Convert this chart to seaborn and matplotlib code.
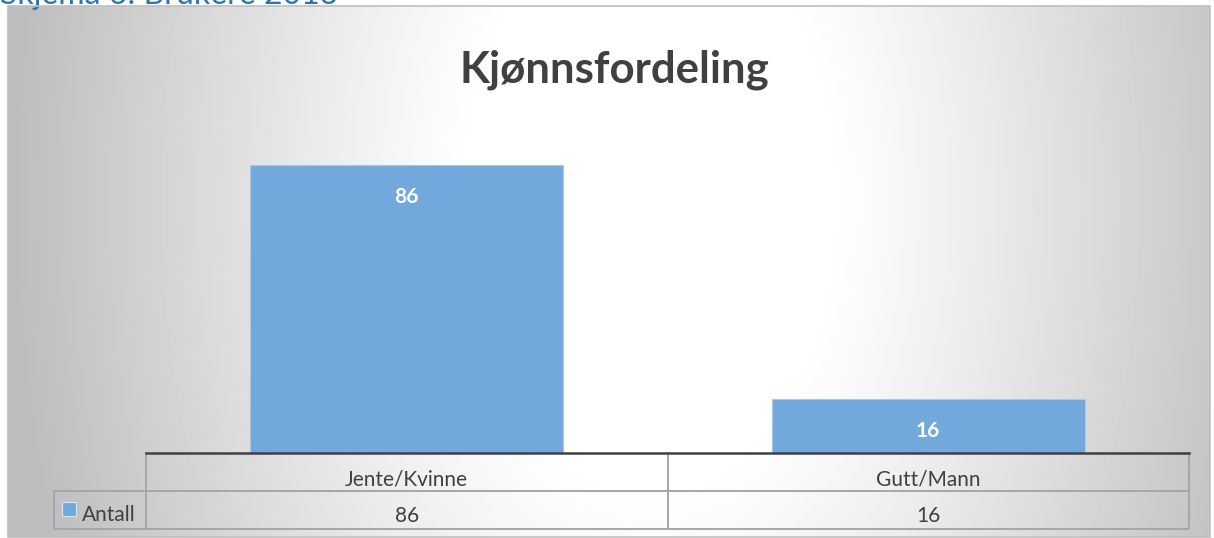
import numpy as np
import pandas as pd
import matplotlib.pyplot as plt
import matplotlib.transforms as mtransforms
from matplotlib.patches import Rectangle
import seaborn as sns

# data
categories = ["Jente/Kvinne", "Gutt/Mann"]
values = [86, 16]
series_name = "Antall"
title = "Kjønnsfordeling"
caption = "Skjema 6: Brukere 2013"

W, H = 1214, 538
bar_color = "#72a8db"
grid_gray = "#a6a6a6"
text_gray = "#404040"

sns.set_style("white")
plt.rcParams["font.family"] = ["Lato", "DejaVu Sans"]

fig = plt.figure(figsize=(W / 100, H / 100), dpi=100)


def fx(x):
    return x / W


def fy(y):
    # y given in pixels from top
    return 1 - y / H


# gray gradient background of the chart area (white in the middle)
bg = fig.add_axes([fx(8), fy(537), fx(1210 - 8), (537 - 6) / H], zorder=0)
xx, yy = np.meshgrid(np.arange(8, 1210), np.arange(6, 537))
d = np.sqrt(((xx - 650) / 640) ** 2 + ((yy - 200) / 1000) ** 2)
shade = 1 - np.clip((d - 0.28) / 0.72, 0, 1) ** 1.1 * 0.26
bg.imshow(shade, cmap="gray", vmin=0, vmax=1, aspect="auto",
          interpolation="bilinear")
bg.set_axis_off()
fig.patches.append(Rectangle((fx(8), fy(537)), fx(1202), (531) / H,
                             transform=fig.transFigure, fill=False,
                             edgecolor="#bfbfbf", lw=1.2, zorder=5))

# main bar axes
ax_bottom = 538 - 453
ax_height = 288 / 86 * 100
ax = fig.add_axes([fx(146), ax_bottom / H, fx(1189 - 146), ax_height / H],
                  zorder=2)
ax.patch.set_alpha(0)
df = pd.DataFrame({"kategori": categories, series_name: values})
sns.barplot(data=df, x="kategori", y=series_name, color=bar_color,
            saturation=1, width=0.6, ax=ax, edgecolor="#a9c9ea", linewidth=0.8)
ax.set_xlim(-0.5, len(categories) - 0.5)
ax.set_ylim(0, 100)
ax.set_xticks([])
ax.set_yticks([])
ax.set_xlabel("")
ax.set_ylabel("")
for s in ["top", "left", "right"]:
    ax.spines[s].set_visible(False)
ax.spines["bottom"].set_color("#404040")
ax.spines["bottom"].set_linewidth(1.8)

for i, v in enumerate(values):
    ax.annotate(str(v), (i, v), xytext=(0, -23), textcoords="offset points",
                ha="center", va="center", color="white", fontsize=15,
                fontweight="bold")

# title and clipped caption
fig.text(fx(614), fy(83), title, ha="center", va="baseline",
         fontsize=31.5, fontweight="bold", color=text_gray)
fig.text(0, fy(3.5), caption, ha="left", va="baseline", fontsize=23,
         color="#2e74b5")

# data table under the axis
trans = mtransforms.blended_transform_factory(ax.transData, fig.transFigure)
n = len(categories)
edges = np.arange(n + 1) - 0.5
for e in edges:
    ax.plot([e, e], [fy(453), fy(529)], transform=trans, color=grid_gray,
            lw=1.4, clip_on=False)
for yline in [491, 529]:
    fig.add_artist(plt.Line2D([fx(54), fx(1189)], [fy(yline), fy(yline)],
                              color=grid_gray, lw=1.4))
fig.add_artist(plt.Line2D([fx(54), fx(54)], [fy(491), fy(529)],
                          color=grid_gray, lw=1.4))

for i, (c, v) in enumerate(zip(categories, values)):
    ax.text(i, fy(485), c, transform=trans, ha="center", va="baseline",
            fontsize=15, color=text_gray)
    ax.text(i, fy(522), str(v), transform=trans, ha="center", va="baseline",
            fontsize=15, color=text_gray)

fig.patches.append(Rectangle((fx(62), fy(516)), fx(14), 14 / H,
                             transform=fig.transFigure, facecolor=bar_color,
                             edgecolor="#d6e6f5", lw=0.8, zorder=6))
fig.text(fx(82), fy(521), series_name, ha="left", va="baseline",
         fontsize=15, color=text_gray)

fig.savefig("out.png", dpi=100)
